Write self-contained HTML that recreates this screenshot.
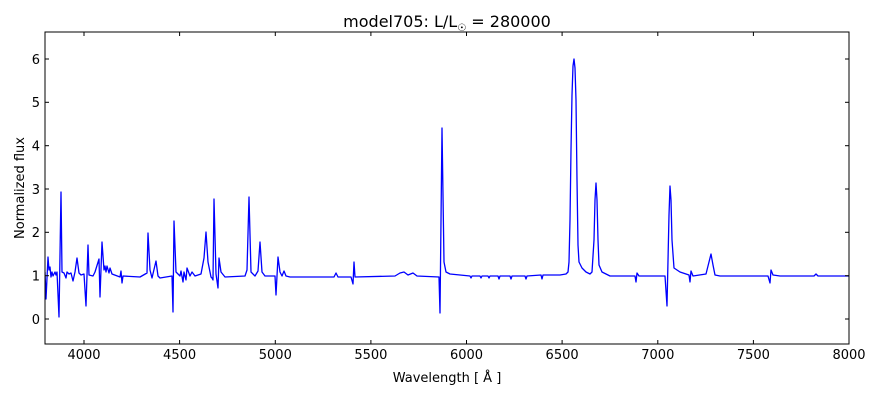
<!DOCTYPE html>
<html><head><meta charset="utf-8"><style>
body{margin:0;background:#fff;}
svg text{font-family:"DejaVu Sans","Liberation Sans",sans-serif;fill:#000;}
</style></head><body>
<svg width="880" height="400" xmlns="http://www.w3.org/2000/svg">
<rect width="880" height="400" fill="#fff"/>
<defs><clipPath id="c"><rect x="45" y="32" width="804" height="312"/></clipPath></defs>
<polyline clip-path="url(#c)" fill="none" stroke="#0000ff" stroke-width="1.3" stroke-linejoin="round" points="
45,272 46,299 48,257 49,270 50,267 51,277 52,272 53,276 55,272 56,275 57,272 59,317 61,192 62,272 64,273 66,278 67,272 69,274 71,273 73,281 75,272 77,258 79,273 81,275 84,274 86,306 88,245 89,275 93,276 95,272 99,259 100,297 102,242 104,270 105,266 106,272 107,266 109,273 110,268 112,274 120,277 121,271 122,283 123,276 140,277 147,273 148,233 150,270 152,278 156,261 158,276 160,278 172,276 173,312 174,221 176,272 180,276 181,271 183,282 184,272 186,280 187,268 190,276 192,272 195,276 201,274 204,258 206,232 208,262 211,277 212,278 213,280 214,199 216,274 218,288 219,258 221,272 225,277 245,276 247,270 249,197 251,272 255,276 258,271 260,242 262,272 265,276 275,276 276,295 278,257 280,272 282,276 284,271 286,276 290,277
334,277 336,273 338,277 351,277 353,284 354,262 355,277 395,276 400,273 404,272 408,275 413,273 417,276 439,277 440,313 442,128 444,262 446,272 450,274 460,275 470,276 471,278 472,276 480,276 481,278 482,276 488,276 489,278 490,276 498,276 499,279 500,276 510,276 511,279 512,276 525,276 526,279 527,276 541,275 542,279 543,275 560,275 566,274 568,272 569,262 570,220 571,150 572,95 573,66 574,59 575,68 576,100 577,180 578,245 579,262 582,268 586,272 590,274 592,272 594,240 595,200 596,183 597,200 598,240 599,265 602,272 610,276 635,276 636,282 637,273 639,276 665,276 667,306 669,215 670,186 671,200 672,240 674,268 680,272 689,275 690,282 691,271 693,276 706,274 709,262 711,254 713,265 715,275 720,276 768,276 770,283 771,270 773,275 780,276 814,276 816,274 818,276 849,276"/>
<rect x="45" y="32" width="804" height="312" fill="none" stroke="#000" stroke-width="1"/>
<g stroke="#000" stroke-width="1">
<line x1="84" y1="344" x2="84" y2="340"/><line x1="84" y1="32" x2="84" y2="36"/>
<line x1="179.6" y1="344" x2="179.6" y2="340"/><line x1="179.6" y1="32" x2="179.6" y2="36"/>
<line x1="275.3" y1="344" x2="275.3" y2="340"/><line x1="275.3" y1="32" x2="275.3" y2="36"/>
<line x1="370.9" y1="344" x2="370.9" y2="340"/><line x1="370.9" y1="32" x2="370.9" y2="36"/>
<line x1="466.5" y1="344" x2="466.5" y2="340"/><line x1="466.5" y1="32" x2="466.5" y2="36"/>
<line x1="562.1" y1="344" x2="562.1" y2="340"/><line x1="562.1" y1="32" x2="562.1" y2="36"/>
<line x1="657.8" y1="344" x2="657.8" y2="340"/><line x1="657.8" y1="32" x2="657.8" y2="36"/>
<line x1="753.4" y1="344" x2="753.4" y2="340"/><line x1="753.4" y1="32" x2="753.4" y2="36"/>
<line x1="45" y1="319" x2="49" y2="319"/><line x1="849" y1="319" x2="845" y2="319"/>
<line x1="45" y1="275.7" x2="49" y2="275.7"/><line x1="849" y1="275.7" x2="845" y2="275.7"/>
<line x1="45" y1="232.3" x2="49" y2="232.3"/><line x1="849" y1="232.3" x2="845" y2="232.3"/>
<line x1="45" y1="189" x2="49" y2="189"/><line x1="849" y1="189" x2="845" y2="189"/>
<line x1="45" y1="145.7" x2="49" y2="145.7"/><line x1="849" y1="145.7" x2="845" y2="145.7"/>
<line x1="45" y1="102.3" x2="49" y2="102.3"/><line x1="849" y1="102.3" x2="845" y2="102.3"/>
<line x1="45" y1="59" x2="49" y2="59"/><line x1="849" y1="59" x2="845" y2="59"/>
</g>
<g font-size="13" text-anchor="middle">
<text x="84" y="359">4000</text><text x="179.6" y="359">4500</text><text x="275.3" y="359">5000</text><text x="370.9" y="359">5500</text><text x="466.5" y="359">6000</text><text x="562.1" y="359">6500</text><text x="657.8" y="359">7000</text><text x="753.4" y="359">7500</text><text x="849" y="359">8000</text>
</g>
<g font-size="13" text-anchor="end">
<text x="40" y="324">0</text><text x="40" y="280.5">1</text><text x="40" y="237">2</text><text x="40" y="194">3</text><text x="40" y="150.5">4</text><text x="40" y="107">5</text><text x="40" y="64">6</text>
</g>
<text x="447" y="382" font-size="13" text-anchor="middle">Wavelength [ Å ]</text>
<text x="24" y="188" font-size="13" text-anchor="middle" transform="rotate(-90 24 188)">Normalized flux</text>
<text x="447" y="27" font-size="16" text-anchor="middle">model705: L/L<tspan font-size="10" dy="4">☉</tspan><tspan dy="-4"> = 280000</tspan></text>
</svg>
</body></html>
